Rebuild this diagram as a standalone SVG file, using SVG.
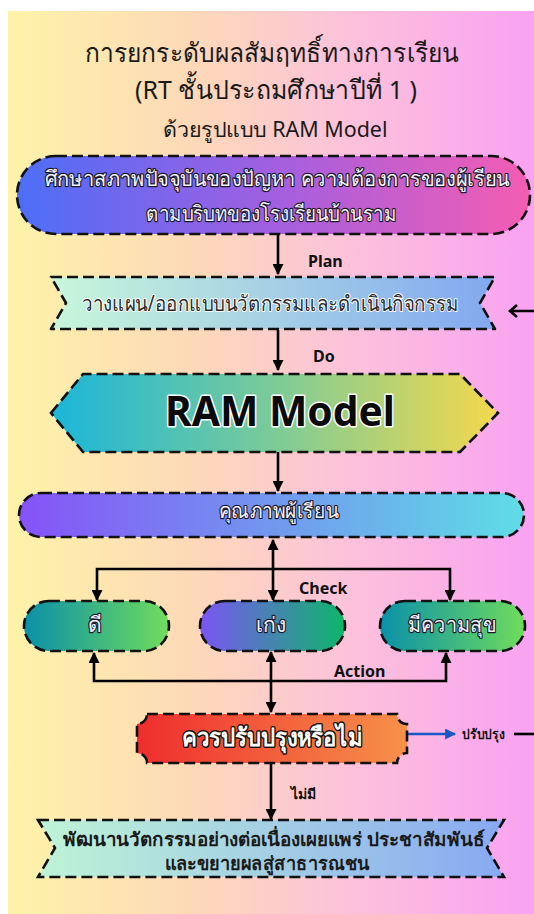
<svg xmlns="http://www.w3.org/2000/svg" width="534" height="914" viewBox="0 0 534 914">
<defs>
<style>
.th{font-family:"Noto Sans","DejaVu Sans",sans-serif;}
.lb{font-family:"Noto Sans","DejaVu Sans",sans-serif;font-weight:bold;fill:#111;}
.dash{stroke:#111;stroke-width:2.6;stroke-dasharray:11 5;}
.conn{stroke:#000;stroke-width:2.6;fill:none;}
.lt{fill:#f4f2ff;stroke:#1a1a2a;stroke-width:2.4;paint-order:stroke;stroke-linejoin:round;}
.dk{fill:#2a2a2a;stroke:#ffffff;stroke-width:2;paint-order:stroke;stroke-linejoin:round;}
</style>
<linearGradient id="bg" x1="0" y1="0" x2="1" y2="0">
<stop offset="0" stop-color="#fef3a8"/><stop offset="0.35" stop-color="#fdd9b8"/><stop offset="0.62" stop-color="#fcc4d8"/><stop offset="1" stop-color="#f9a2f2"/>
</linearGradient>
<linearGradient id="g1" x1="0" y1="0" x2="1" y2="0"><stop offset="0" stop-color="#4d6ef7"/><stop offset="0.5" stop-color="#a25fe0"/><stop offset="1" stop-color="#f45db2"/></linearGradient>
<linearGradient id="g2" x1="0" y1="0" x2="1" y2="0"><stop offset="0" stop-color="#c8f7da"/><stop offset="1" stop-color="#82a8f0"/></linearGradient>
<linearGradient id="g3" x1="0" y1="0" x2="1" y2="0"><stop offset="0" stop-color="#1ab6da"/><stop offset="0.5" stop-color="#7ccb98"/><stop offset="1" stop-color="#f4d84c"/></linearGradient>
<linearGradient id="g4" x1="0" y1="0" x2="1" y2="0"><stop offset="0" stop-color="#8652f7"/><stop offset="1" stop-color="#5fdde6"/></linearGradient>
<linearGradient id="gg" x1="0" y1="0" x2="1" y2="0"><stop offset="0" stop-color="#0a90a8"/><stop offset="1" stop-color="#70dc5c"/></linearGradient>
<linearGradient id="gp" x1="0" y1="0" x2="1" y2="0"><stop offset="0" stop-color="#7b55f3"/><stop offset="1" stop-color="#0db66a"/></linearGradient>
<linearGradient id="gr" x1="0" y1="0" x2="1" y2="0"><stop offset="0" stop-color="#ef2d2d"/><stop offset="1" stop-color="#f7914a"/></linearGradient>
<linearGradient id="g5" x1="0" y1="0" x2="1" y2="0"><stop offset="0" stop-color="#bff4d6"/><stop offset="1" stop-color="#88a9f2"/></linearGradient>
<marker id="ah" viewBox="0 0 10 10" refX="9" refY="5" markerWidth="11" markerHeight="11" markerUnits="userSpaceOnUse" orient="auto-start-reverse"><path d="M0,0 L10,5 L0,10 Z" fill="#000"/></marker>
<marker id="ahb" viewBox="0 0 10 10" refX="9" refY="5" markerWidth="11" markerHeight="11" markerUnits="userSpaceOnUse" orient="auto"><path d="M0,0 L10,5 L0,10 Z" fill="#1a56c4"/></marker>
</defs>

<rect x="8" y="11" width="526" height="903" fill="url(#bg)"/>

<g id="title" class="th" fill="#1a1a1a" text-anchor="middle">
<text x="272" y="62" font-size="26" textLength="375" lengthAdjust="spacingAndGlyphs">การยกระดับผลสัมฤทธิ์ทางการเรียน</text>
<text x="276" y="99" font-size="26" textLength="282" lengthAdjust="spacingAndGlyphs">(RT ชั้นประถมศึกษาปีที่ 1 )</text>
<text x="275" y="137" font-size="21" textLength="225" lengthAdjust="spacingAndGlyphs">ด้วยรูปแบบ RAM Model</text>
</g>

<g id="connectors">
<line class="conn" x1="278" y1="235" x2="278" y2="274" marker-end="url(#ah)"/>
<line class="conn" x1="278" y1="330" x2="278" y2="370" marker-end="url(#ah)"/>
<line class="conn" x1="278" y1="452" x2="278" y2="491" marker-end="url(#ah)"/>
<line class="conn" x1="273" y1="540" x2="273" y2="600" marker-start="url(#ah)" marker-end="url(#ah)"/>
<path class="conn" d="M97,600 V569 H450 V600" marker-start="url(#ah)" marker-end="url(#ah)"/>
<path class="conn" d="M94,653 V681 H446 V653" marker-start="url(#ah)" marker-end="url(#ah)"/>
<line class="conn" x1="271" y1="652" x2="271" y2="712" marker-start="url(#ah)" marker-end="url(#ah)"/>
<line class="conn" x1="271" y1="764" x2="271" y2="819" marker-end="url(#ah)"/>
<line x1="407" y1="734" x2="455" y2="734" stroke="#1a56c4" stroke-width="2.6" marker-end="url(#ahb)"/>
<line class="conn" x1="514" y1="734" x2="534" y2="734"/>
<path class="conn" d="M534,311 H510 M517,305 L510,311 L517,317" stroke-width="2.2"/>
<text class="lb" x="308" y="267" font-size="16">Plan</text>
<text class="lb" x="313" y="362" font-size="16">Do</text>
<text class="lb" x="299" y="594" font-size="16">Check</text>
<text class="lb" x="334" y="677" font-size="16">Action</text>
<text class="lb" x="462" y="739" font-size="14" textLength="43" lengthAdjust="spacingAndGlyphs">ปรับปรุง</text>
<text class="lb" x="291" y="799" font-size="14">ไม่มี</text>
</g>

<g id="n-study">
<rect class="dash" x="17" y="156" width="513" height="78" rx="39" fill="url(#g1)"/>
<text class="th lt" x="277" y="186" font-size="21" text-anchor="middle" textLength="465" lengthAdjust="spacingAndGlyphs">ศึกษาสภาพปัจจุบันของปัญหา ความต้องการของผู้เรียน</text>
<text class="th lt" x="271" y="221" font-size="21" text-anchor="middle" textLength="250" lengthAdjust="spacingAndGlyphs">ตามบริบทของโรงเรียนบ้านราม</text>
</g>

<g id="n-plan">
<path class="dash" d="M51,277 H495 L480,303 L495,329 H51 L66,303 Z" fill="url(#g2)" stroke-linejoin="round"/>
<text class="th dk" x="270" y="311" font-size="21" text-anchor="middle" textLength="376" lengthAdjust="spacingAndGlyphs">วางแผน/ออกแบบนวัตกรรมและดำเนินกิจกรรม</text>
</g>

<g id="n-ram">
<path class="dash" d="M51,413 L83,374 H460 L498,413 L460,452 H83 Z" fill="url(#g3)"/>
<text x="280" y="426" font-family="'Noto Sans','DejaVu Sans',sans-serif" font-weight="bold" font-size="42" text-anchor="middle" fill="#0a0a0a" stroke="#ffffff" stroke-width="3" paint-order="stroke" stroke-linejoin="round" textLength="230" lengthAdjust="spacingAndGlyphs">RAM Model</text>
</g>

<g id="n-quality">
<rect class="dash" x="19" y="493" width="505" height="44" rx="22" fill="url(#g4)"/>
<text class="th lt" x="279" y="518" font-size="20" text-anchor="middle" textLength="120" lengthAdjust="spacingAndGlyphs">คุณภาพผู้เรียน</text>
</g>

<g id="n-good">
<rect class="dash" x="24" y="601" width="145" height="50" rx="25" fill="url(#gg)"/>
<text class="th lt" x="95" y="632" font-size="21" text-anchor="middle">ดี</text>
</g>
<g id="n-smart">
<rect class="dash" x="200" y="601" width="145" height="50" rx="25" fill="url(#gp)"/>
<text class="th lt" x="271" y="632" font-size="21" text-anchor="middle">เก่ง</text>
</g>
<g id="n-happy">
<rect class="dash" x="380" y="601" width="145" height="50" rx="25" fill="url(#gg)"/>
<text class="th lt" x="452" y="632" font-size="21" text-anchor="middle" textLength="88" lengthAdjust="spacingAndGlyphs">มีความสุข</text>
</g>

<g id="n-decide">
<path class="dash" d="M147,714 H397 A10,10 0 0 0 407,724 V753 A10,10 0 0 0 397,763 H147 A10,10 0 0 0 137,753 V724 A10,10 0 0 0 147,714 Z" fill="url(#gr)"/>
<text class="th" x="272" y="746" font-size="25" font-weight="bold" text-anchor="middle" fill="#ffffff" stroke="#111" stroke-width="3" paint-order="stroke" stroke-linejoin="round" textLength="180" lengthAdjust="spacingAndGlyphs">ควรปรับปรุงหรือไม่</text>
</g>

<g id="n-develop">
<path class="dash" d="M38,820 H504 L487,848 L504,877 H38 L55,848 Z" fill="url(#g5)"/>
<text class="th" x="274" y="846" font-size="19" font-weight="bold" text-anchor="middle" fill="#1a1a1a" textLength="422" lengthAdjust="spacingAndGlyphs">พัฒนานวัตกรรมอย่างต่อเนื่องเผยแพร่ ประชาสัมพันธ์</text>
<text class="th" x="267" y="870" font-size="19" font-weight="bold" text-anchor="middle" fill="#1a1a1a" textLength="205" lengthAdjust="spacingAndGlyphs">และขยายผลสู่สาธารณชน</text>
</g>
</svg>
